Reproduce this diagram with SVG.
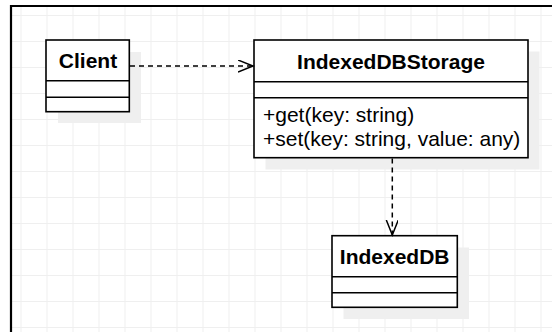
<svg xmlns="http://www.w3.org/2000/svg" width="552" height="332" viewBox="0 0 552 332">
  <defs>
    <pattern id="grid" x="20.5" y="15" width="26" height="26" patternUnits="userSpaceOnUse">
      <path d="M0.5 0 V26 M0 0.5 H26" fill="none" stroke="#efefef" stroke-width="1"/>
    </pattern>
    <marker id="open" markerWidth="18" markerHeight="14" refX="15" refY="6" orient="auto" markerUnits="userSpaceOnUse">
      <path d="M0 0 L15 6 L0 12" fill="none" stroke="#000" stroke-width="1.5"/>
    </marker>
  </defs>
  <style>
    .box { fill: #ffffff; stroke: #000000; stroke-width: 1.6; }
    .shadow { fill: #efefef; stroke: none; }
    .sep { stroke: #000000; stroke-width: 1.6; }
    .title { font-family: "Liberation Sans", Arial, sans-serif; font-size: 21px; font-weight: bold; fill: #000; text-anchor: middle; }
    .member { font-family: "Liberation Sans", Arial, sans-serif; font-size: 21px; fill: #000; }
    .dep { fill: none; stroke: #000; stroke-width: 1.5; stroke-dasharray: 5 4; }
  </style>
  <rect x="0" y="0" width="552" height="332" fill="#ffffff"/>
  <rect x="12" y="7" width="540" height="325" fill="url(#grid)"/>
  <path d="M11 332 V6 H552" fill="none" stroke="#000" stroke-width="2.2"/>

  <g id="client">
    <rect class="shadow" x="58" y="52" width="83" height="71"/>
    <rect class="box" x="46" y="40" width="83.3" height="71.7"/>
    <line class="sep" x1="46" y1="80.7" x2="129.3" y2="80.7"/>
    <line class="sep" x1="46" y1="97.3" x2="129.3" y2="97.3"/>
    <text class="title" x="88" y="68">Client</text>
  </g>

  <g id="indexeddbstorage">
    <rect class="shadow" x="265.5" y="51.5" width="274" height="118"/>
    <rect class="box" x="254" y="40" width="274" height="117.7"/>
    <line class="sep" x1="254" y1="81.7" x2="528" y2="81.7"/>
    <line class="sep" x1="254" y1="97.7" x2="528" y2="97.7"/>
    <text class="title" x="391" y="68.5">IndexedDBStorage</text>
    <text class="member" x="263" y="122">+get(key: string)</text>
    <text class="member" x="263" y="146">+set(key: string, value: any)</text>
  </g>

  <g id="indexeddb">
    <rect class="shadow" x="343.5" y="247.5" width="125.5" height="71.5"/>
    <rect class="box" x="332" y="235.7" width="125.3" height="71.6"/>
    <line class="sep" x1="332" y1="276.7" x2="457.3" y2="276.7"/>
    <line class="sep" x1="332" y1="292.7" x2="457.3" y2="292.7"/>
    <text class="title" x="394.7" y="264">IndexedDB</text>
  </g>

  <g id="connectors">
    <line class="dep" x1="130" y1="66" x2="253" y2="66" marker-end="url(#open)"/>
    <line class="dep" x1="392.3" y1="158.5" x2="392.3" y2="235" marker-end="url(#open)"/>
  </g>
</svg>
